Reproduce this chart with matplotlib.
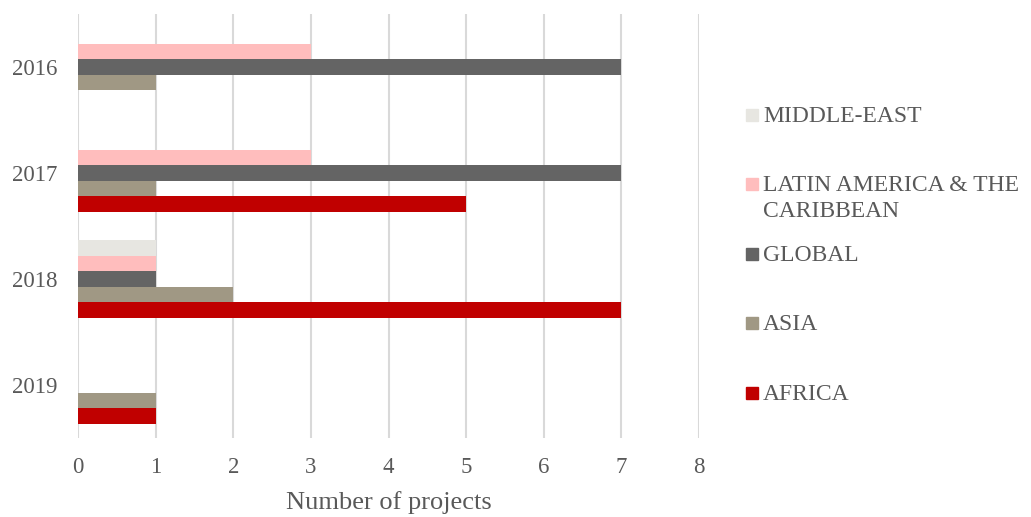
import numpy as np
import matplotlib
matplotlib.use("Agg")
import matplotlib.pyplot as plt
from matplotlib.patches import Rectangle

plt.rcParams["font.family"] = ["Liberation Serif", "DejaVu Serif"]

YEARS = ["2016", "2017", "2018", "2019"]
# series listed top to bottom within each year group (same as legend order)
SERIES = ["MIDDLE-EAST", "LATIN AMERICA & THE\nCARIBBEAN", "GLOBAL", "ASIA", "AFRICA"]
COLORS = ["#E7E6E1", "#FFBDBD", "#646464", "#A09884", "#C00000"]
VALUES = {
    "MIDDLE-EAST": [0, 0, 1, 0],
    "LATIN AMERICA & THE\nCARIBBEAN": [3, 3, 1, 0],
    "GLOBAL": [7, 7, 1, 0],
    "ASIA": [1, 1, 2, 1],
    "AFRICA": [0, 5, 7, 1],
}
TEXT = "#595959"

fig = plt.figure(figsize=(10.31, 5.17), dpi=100)
ax = fig.add_axes([0.0757, 0.153, 0.6023, 0.820])

y = np.arange(len(YEARS))
h = 0.147
for j, (name, col) in enumerate(zip(SERIES, COLORS)):
    ax.barh(y + (j - 2) * h, VALUES[name], height=h, color=col, zorder=3)

ax.set_ylim(len(YEARS) - 0.5, -0.5)
ax.set_xlim(0, 8)
ax.set_xticks(range(0, 9))
ax.set_yticks(y)
ax.set_yticklabels(YEARS)
ax.grid(axis="x", color="#D9D9D9", lw=1.5, zorder=0)
ax.set_axisbelow(True)
for s in ax.spines.values():
    s.set_visible(False)
ax.tick_params(length=0, labelsize=16.5, colors=TEXT)
ax.tick_params(axis="x", pad=14)
ax.tick_params(axis="y", pad=15)
ax.set_xlabel("Number of projects", fontsize=19, color=TEXT, labelpad=9)

# legend drawn by hand so the wrapped label keeps its swatch on the first line
leg_y = [115, 184, 254, 323, 393]
W, H = 1031, 517
for name, col, yy in zip(SERIES, COLORS, leg_y):
    fig.patches.append(Rectangle((746 / W, 1 - (yy + 6) / H), 12 / W, 12 / H,
                                 transform=fig.transFigure, color=col))
    fig.text(763 / W, 1 - (yy - 9) / H, name, fontsize=17, color=TEXT,
             va="top", ha="left", linespacing=1.3)

fig.savefig("out.png", dpi=100)
